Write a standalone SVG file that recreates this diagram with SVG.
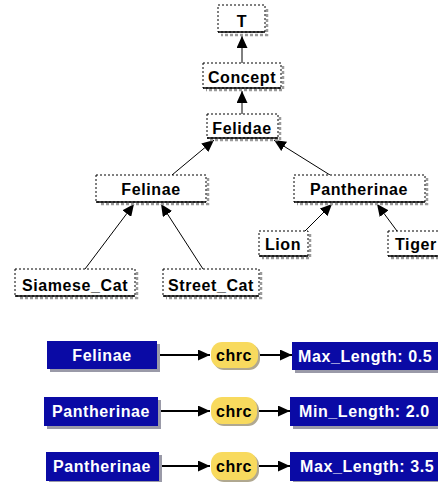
<svg xmlns="http://www.w3.org/2000/svg" width="438" height="482" viewBox="0 0 438 482">
<defs>
<style>
.bg{fill:#ffffff}
.tshadow{fill:none;stroke:#9a9a9a;stroke-width:2.5;stroke-dasharray:3 2}
.tbox{fill:#ffffff;stroke:#000;stroke-width:1;stroke-dasharray:2 2}
.tbot{stroke:#000;stroke-width:1.5}
.tt{font-family:"Liberation Sans",Arial,sans-serif;font-weight:bold;font-size:16px;letter-spacing:0.6px;fill:#000;text-anchor:middle}
.conn{stroke:#000;stroke-width:1;fill:none}
.arr{stroke:#000;stroke-width:1.8;fill:none}
.bshadow{fill:#9a9aa8}
.bbox{fill:#0a0aa5}
.bt{font-family:"Liberation Sans",Arial,sans-serif;font-weight:bold;font-size:16px;letter-spacing:0.6px;fill:#fff}
.pill{fill:#f8da5e}
.pshadow{fill:#b0a890}
.pt{font-family:"Liberation Sans",Arial,sans-serif;font-weight:bold;font-size:16px;letter-spacing:0.6px;fill:#000;text-anchor:middle}
</style>
<marker id="ah" markerUnits="userSpaceOnUse" markerWidth="12" markerHeight="11" viewBox="0 0 12 11" refX="12" refY="5.5" orient="auto">
<path d="M0,0 L12,5.5 L0,11 z" fill="#000"/>
</marker>
</defs>
<rect class="bg" x="0" y="0" width="438" height="482"/>

<g id="connectors">
<line class="conn" x1="242" y1="63" x2="242" y2="36" marker-end="url(#ah)"/>
<line class="conn" x1="242" y1="115" x2="242" y2="91" marker-end="url(#ah)"/>
<line class="conn" x1="172" y1="175" x2="214" y2="140" marker-end="url(#ah)"/>
<line class="conn" x1="330" y1="175" x2="274" y2="140" marker-end="url(#ah)"/>
<line class="conn" x1="85" y1="269" x2="134" y2="204" marker-end="url(#ah)"/>
<line class="conn" x1="203" y1="269" x2="161" y2="204" marker-end="url(#ah)"/>
<line class="conn" x1="305" y1="231" x2="332" y2="204" marker-end="url(#ah)"/>
<line class="conn" x1="397" y1="231" x2="377" y2="204" marker-end="url(#ah)"/>
<line class="arr" x1="157" y1="355" x2="210" y2="355" marker-end="url(#ah)"/>
<line class="arr" x1="258" y1="355" x2="292" y2="355" marker-end="url(#ah)"/>
<line class="arr" x1="158" y1="411" x2="210" y2="411" marker-end="url(#ah)"/>
<line class="arr" x1="257" y1="411" x2="290" y2="411" marker-end="url(#ah)"/>
<line class="arr" x1="159" y1="466" x2="210" y2="466" marker-end="url(#ah)"/>
<line class="arr" x1="257" y1="466" x2="290" y2="466" marker-end="url(#ah)"/>
</g>

<g id="T">
<path class="tshadow" d="M267,9 V35 H221"/>
<rect class="tbox" x="218" y="5" width="47" height="27"/>
<line class="tbot" x1="218" y1="32" x2="265" y2="32"/>
<text class="tt" x="242" y="27">T</text>
</g>
<g id="Concept">
<path class="tshadow" d="M283,66 V90 H206"/>
<rect class="tbox" x="203" y="63" width="78" height="25"/>
<line class="tbot" x1="203" y1="88" x2="281" y2="88"/>
<text class="tt" x="242" y="83">Concept</text>
</g>
<g id="Felidae">
<path class="tshadow" d="M280,117 V140 H210"/>
<rect class="tbox" x="207" y="114" width="71" height="24"/>
<line class="tbot" x1="207" y1="138" x2="278" y2="138"/>
<text class="tt" x="242" y="134">Felidae</text>
</g>
<g id="Felinae">
<path class="tshadow" d="M208,178 V204 H99"/>
<rect class="tbox" x="96" y="175" width="110" height="27"/>
<line class="tbot" x1="96" y1="202" x2="206" y2="202"/>
<text class="tt" x="151" y="195">Felinae</text>
</g>
<g id="Pantherinae">
<path class="tshadow" d="M427,178 V204 H297"/>
<rect class="tbox" x="294" y="175" width="131" height="27"/>
<line class="tbot" x1="294" y1="202" x2="425" y2="202"/>
<text class="tt" x="359" y="195">Pantherinae</text>
</g>
<g id="Lion">
<path class="tshadow" d="M310,234 V258 H262"/>
<rect class="tbox" x="259" y="231" width="49" height="25"/>
<line class="tbot" x1="259" y1="256" x2="308" y2="256"/>
<text class="tt" x="283" y="250">Lion</text>
</g>
<g id="Tiger">
<path class="tshadow" d="M391,258 H440"/>
<rect class="tbox" x="388" y="231" width="60" height="25"/>
<line class="tbot" x1="388" y1="256" x2="448" y2="256"/>
<text class="tt" x="395" y="250" style="text-anchor:start">Tiger</text>
</g>
<g id="Siamese_Cat">
<path class="tshadow" d="M137,272 V298 H18"/>
<rect class="tbox" x="15" y="269" width="120" height="27"/>
<line class="tbot" x1="15" y1="296" x2="135" y2="296"/>
<text class="tt" x="75" y="291">Siamese_Cat</text>
</g>
<g id="Street_Cat">
<path class="tshadow" d="M261,272 V298 H166"/>
<rect class="tbox" x="163" y="269" width="96" height="27"/>
<line class="tbot" x1="163" y1="296" x2="259" y2="296"/>
<text class="tt" x="211" y="291">Street_Cat</text>
</g>

<g id="row1_Felinae">
<rect class="bshadow" x="50" y="344" width="110" height="28"/>
<rect class="bbox" x="47" y="341" width="110" height="28"/>
<text class="bt" x="102" y="361" text-anchor="middle">Felinae</text>
</g>
<g id="row1_chrc">
<rect class="pshadow" x="213" y="344" width="47" height="26" rx="11"/>
<rect class="pill" x="211" y="342" width="47" height="26" rx="11"/>
<text class="pt" x="234" y="361">chrc</text>
</g>
<g id="row1_Max_Length">
<rect class="bshadow" x="295" y="345" width="150" height="28"/>
<rect class="bbox" x="292" y="342" width="150" height="28"/>
<text class="bt" x="298" y="362">Max_Length: 0.5</text>
</g>

<g id="row2_Pantherinae">
<rect class="bshadow" x="47" y="400" width="114" height="29"/>
<rect class="bbox" x="44" y="397" width="114" height="29"/>
<text class="bt" x="101" y="417" text-anchor="middle">Pantherinae</text>
</g>
<g id="row2_chrc">
<rect class="pshadow" x="213" y="399" width="46" height="27" rx="11"/>
<rect class="pill" x="211" y="397" width="46" height="27" rx="11"/>
<text class="pt" x="234" y="417">chrc</text>
</g>
<g id="row2_Min_Length">
<rect class="bshadow" x="293" y="400" width="150" height="29"/>
<rect class="bbox" x="290" y="397" width="150" height="29"/>
<text class="bt" x="299" y="417">Min_Length: 2.0</text>
</g>

<g id="row3_Pantherinae">
<rect class="bshadow" x="49" y="455" width="113" height="29"/>
<rect class="bbox" x="46" y="452" width="113" height="29"/>
<text class="bt" x="102" y="472" text-anchor="middle">Pantherinae</text>
</g>
<g id="row3_chrc">
<rect class="pshadow" x="213" y="454" width="46" height="28" rx="11"/>
<rect class="pill" x="211" y="452" width="46" height="28" rx="11"/>
<text class="pt" x="234" y="472">chrc</text>
</g>
<g id="row3_Max_Length">
<rect class="bshadow" x="293" y="455" width="150" height="29"/>
<rect class="bbox" x="290" y="452" width="150" height="29"/>
<text class="bt" x="300" y="472">Max_Length: 3.5</text>
</g>
</svg>
